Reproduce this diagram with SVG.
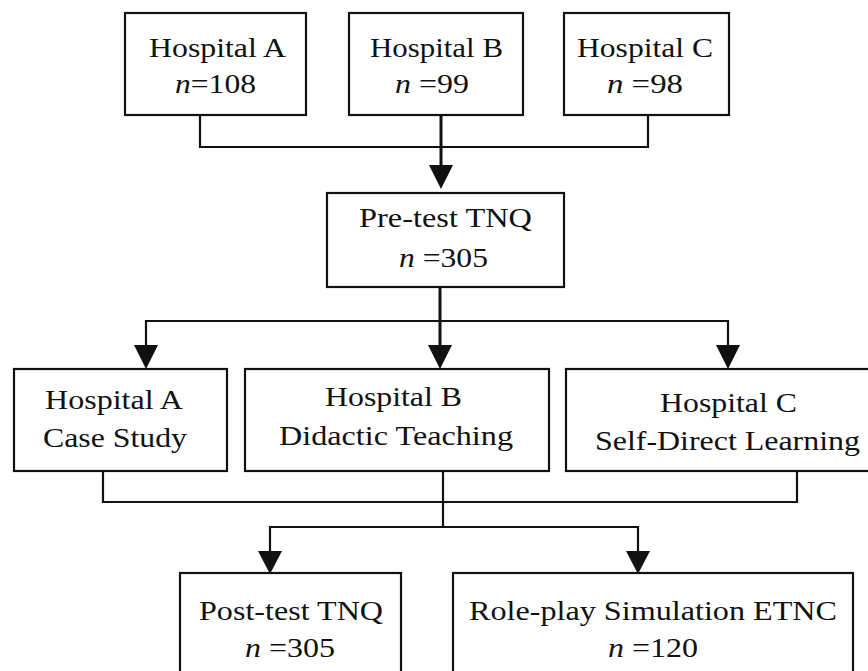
<svg xmlns="http://www.w3.org/2000/svg" width="868" height="671" viewBox="0 0 868 671">
<defs>
<style>
.box{fill:#fff;stroke:#111;stroke-width:2.2}
.t{font-family:"Liberation Serif","Times New Roman",serif;font-size:27px;fill:#111;text-anchor:middle}
.i{font-style:italic}
.ln{fill:none;stroke:#111;stroke-width:2.2}
.lb{fill:none;stroke:#111;stroke-width:3}
.ah{fill:#111}
</style>
</defs>
<rect width="868" height="671" fill="#fff"/>
<g id="connectors">
<polyline class="ln" points="200,115 200,147 648,147 648,115"/>
<line class="lb" x1="441" y1="115" x2="441" y2="168"/>
<polygon class="ah" points="429,165 453,165 441,189"/>
<line class="lb" x1="440" y1="287" x2="440" y2="347"/>
<polyline class="ln" points="146,347 146,321 728,321 728,347"/>
<polygon class="ah" points="428,345 452,345 440,369"/>
<polygon class="ah" points="134,345 158,345 146,369"/>
<polygon class="ah" points="716,345 740,345 728,369"/>
<polyline class="ln" points="103,471 103,502 797,502 797,471"/>
<line class="ln" x1="443" y1="471" x2="443" y2="527"/>
<polyline class="ln" points="270,553 270,527 638,527 638,553"/>
<polygon class="ah" points="258,551 282,551 270,574"/>
<polygon class="ah" points="626,551 650,551 638,574"/>
</g>
<g id="hospA">
<rect class="box" x="125" y="13" width="181" height="102"/>
<text class="t" x="217.5" y="57" textLength="137" lengthAdjust="spacingAndGlyphs">Hospital A</text>
<text class="t" x="215.5" y="93" textLength="81" lengthAdjust="spacingAndGlyphs"><tspan class="i">n</tspan>=108</text>
</g>
<g id="hospB">
<rect class="box" x="349" y="13" width="174" height="102"/>
<text class="t" x="436.5" y="57" textLength="133" lengthAdjust="spacingAndGlyphs">Hospital B</text>
<text class="t" x="432" y="93" textLength="74" lengthAdjust="spacingAndGlyphs"><tspan class="i">n</tspan> =99</text>
</g>
<g id="hospC">
<rect class="box" x="564" y="13" width="165" height="102"/>
<text class="t" x="645" y="57" textLength="136" lengthAdjust="spacingAndGlyphs">Hospital C</text>
<text class="t" x="645" y="93" textLength="76" lengthAdjust="spacingAndGlyphs"><tspan class="i">n</tspan> =98</text>
</g>
<g id="pretest">
<rect class="box" x="327" y="193" width="237" height="94"/>
<text class="t" x="445.5" y="227" textLength="173" lengthAdjust="spacingAndGlyphs">Pre-test TNQ</text>
<text class="t" x="443.5" y="267" textLength="89" lengthAdjust="spacingAndGlyphs"><tspan class="i">n</tspan> =305</text>
</g>
<g id="caseStudy">
<rect class="box" x="14" y="369" width="213" height="102"/>
<text class="t" x="114" y="409" textLength="138" lengthAdjust="spacingAndGlyphs">Hospital A</text>
<text class="t" x="115" y="447" textLength="144" lengthAdjust="spacingAndGlyphs">Case Study</text>
</g>
<g id="didactic">
<rect class="box" x="245" y="369" width="304" height="102"/>
<text class="t" x="393.5" y="406" textLength="137" lengthAdjust="spacingAndGlyphs">Hospital B</text>
<text class="t" x="396" y="445" textLength="234" lengthAdjust="spacingAndGlyphs">Didactic Teaching</text>
</g>
<g id="selfDirect">
<rect class="box" x="566" y="369" width="310" height="102"/>
<text class="t" x="728.5" y="412" textLength="137" lengthAdjust="spacingAndGlyphs">Hospital C</text>
<text class="t" x="727.5" y="450" textLength="265" lengthAdjust="spacingAndGlyphs">Self-Direct Learning</text>
</g>
<g id="posttest">
<rect class="box" x="180" y="573" width="221" height="110"/>
<text class="t" x="291" y="620" textLength="184" lengthAdjust="spacingAndGlyphs">Post-test TNQ</text>
<text class="t" x="290" y="657" textLength="90" lengthAdjust="spacingAndGlyphs"><tspan class="i">n</tspan> =305</text>
</g>
<g id="roleplay">
<rect class="box" x="453" y="573" width="400" height="110"/>
<text class="t" x="653" y="620" textLength="368" lengthAdjust="spacingAndGlyphs">Role-play Simulation ETNC</text>
<text class="t" x="653" y="657" textLength="90" lengthAdjust="spacingAndGlyphs"><tspan class="i">n</tspan> =120</text>
</g>
</svg>
